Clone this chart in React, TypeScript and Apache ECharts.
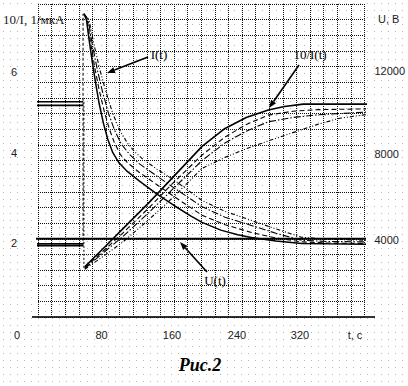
import React, { useEffect, useRef } from 'react';
import * as echarts from 'echarts';

// ---- data ----
const T_LABELS = [80, 160, 240, 320];
const LEFT_LABELS = [2, 4, 6];
const RIGHT_LABELS = [4000, 8000, 12000];

// levels before the start (t < 53)
const PRE_I_A = [[-5, 1.87], [53, 1.87]];
const PRE_I_B = [[-5, 1.82], [53, 1.82]];
const PRE_R_A = [[-5, 5.5], [53, 5.5]];
const PRE_R_B = [[-5, 5.41], [53, 5.41]];
// jumps at the start
const JUMP_I = [[53, 1.82], [53, 7.75]];
const JUMP_R = [[54, 5.5], [54, 1.24]];

// I(t), left axis (t, value) – four runs
const I1 = [[54, 7.75], [57, 7.6], [60, 7.1], [64, 6.5], [68, 5.95], [72, 5.45], [77, 4.95], [82, 4.55], [88, 4.2], [95, 3.95], [105, 3.72], [119, 3.48], [140, 3.14], [160, 2.85], [180, 2.58], [193, 2.42], [215, 2.22], [235, 2.1], [251, 2.03], [280, 1.94], [310, 1.88], [340, 1.87], [392, 1.86]];
const I2 = [[54, 7.75], [58, 7.6], [62, 7.0], [67, 6.35], [72, 5.8], [78, 5.25], [84, 4.8], [90, 4.45], [97, 4.15], [105, 3.95], [119, 3.7], [140, 3.38], [160, 3.08], [193, 2.6], [220, 2.36], [251, 2.16], [280, 2.02], [310, 1.92], [340, 1.89], [388, 1.88]];
const I3 = [[54, 7.75], [59, 7.6], [64, 6.95], [70, 6.3], [76, 5.75], [83, 5.2], [90, 4.78], [98, 4.42], [108, 4.15], [119, 3.92], [140, 3.6], [160, 3.3], [193, 2.82], [220, 2.55], [251, 2.34], [280, 2.14], [310, 1.96], [340, 1.93], [388, 1.92]];
const I4 = [[54, 7.75], [60, 7.6], [66, 6.95], [73, 6.3], [80, 5.75], [88, 5.2], [96, 4.78], [105, 4.45], [114, 4.22], [124, 4.02], [140, 3.78], [160, 3.5], [193, 2.98], [220, 2.7], [251, 2.47], [280, 2.25], [310, 2.04], [340, 1.99], [388, 1.96]];

// 10/I(t), left axis – four runs
const R1 = [[55, 1.28], [80, 1.82], [100, 2.26], [130, 2.91], [160, 3.6], [193, 4.36], [220, 4.82], [245, 5.1], [271, 5.29], [290, 5.38], [312, 5.44], [392, 5.44]];
const R2 = [[55, 1.26], [80, 1.75], [100, 2.15], [130, 2.78], [160, 3.45], [193, 4.14], [220, 4.6], [245, 4.92], [271, 5.16], [300, 5.26], [330, 5.3], [388, 5.32]];
const R3 = [[55, 1.24], [80, 1.7], [100, 2.06], [130, 2.66], [160, 3.3], [193, 4.0], [220, 4.45], [245, 4.75], [271, 4.99], [300, 5.1], [330, 5.17], [388, 5.24]];
const R4 = [[55, 1.22], [80, 1.6], [100, 1.92], [130, 2.48], [160, 3.08], [193, 3.8], [220, 4.08], [245, 4.3], [271, 4.5], [305, 4.75], [330, 4.93], [355, 5.08], [388, 5.18]];

// U(t), right axis (V)
const U = [[-5, 4000], [392, 4000]];

const SANS = 'Liberation Sans, Arial, sans-serif';
const SERIF = 'Liberation Serif, Times New Roman, serif';

function line(data: number[][], type: any, width: number, yAxisIndex = 0) {
  return {
    type: 'line', data, yAxisIndex, symbol: 'none', showSymbol: false, clip: false, silent: true,
    lineStyle: { color: '#000', width, type },
  };
}

function arrow(x1: number, y1: number, x2: number, y2: number) {
  const dx = x2 - x1, dy = y2 - y1;
  const L = Math.hypot(dx, dy);
  const ux = dx / L, uy = dy / L;
  const bx = x2 - ux * 8, by = y2 - uy * 8;
  const px = -uy * 3, py = ux * 3;
  return [
    { type: 'line', shape: { x1, y1, x2: bx, y2: by }, style: { stroke: '#000', lineWidth: 1.6 } },
    { type: 'polygon', shape: { points: [[x2, y2], [bx + px, by + py], [bx - px, by - py]] }, style: { fill: '#000' } },
  ];
}

const labelStyle = { fontSize: 11, fontFamily: SANS, color: '#222' };
const gridLine = { show: true, lineStyle: { color: '#111', type: [1, 1], width: 1 } };

const DASH = [5, 3];
const DASH_DOT = [7, 2, 1.5, 2];
const DASH_DOT_DOT = [4, 2, 1, 2, 1, 2];

export default function App() {
  const ref = useRef<HTMLDivElement>(null);
  useEffect(() => {
    const chart = echarts.init(ref.current!, null, { renderer: 'svg' });
    const option: any = {
      animation: false,
      grid: { left: 38, right: 40, top: 4, bottom: 69 },
      xAxis: {
        type: 'value', min: 0, max: 384, interval: 16,
        axisLine: { show: false }, axisTick: { show: false },
        splitLine: gridLine,
        axisLabel: {
          margin: 12, ...labelStyle,
          formatter: (v: number) => (T_LABELS.includes(v) ? `{t${v}|${v}}` : ''),
          rich: {
            t80: { ...labelStyle, padding: [0, 9, 0, 0] },
            t160: { ...labelStyle, padding: [0, 4, 0, 0] },
            t240: { ...labelStyle, padding: [0, 10, 0, 0] },
            t320: { ...labelStyle, padding: [0, 20, 0, 0] },
          },
        },
      },
      yAxis: [
        {
          type: 'value', min: 0, max: 8, interval: 0.4,
          axisLine: { show: false }, axisTick: { show: false },
          splitLine: gridLine,
          axisLabel: {
            margin: 21, ...labelStyle,
            formatter: (v: number) => {
              const r = Math.round(v * 10) / 10;
              return LEFT_LABELS.includes(r) ? `{l${r}|${r}}` : '';
            },
            rich: {
              l2: { ...labelStyle, padding: [8, 0, 0, 0] },
              l4: { ...labelStyle, padding: [0, 0, 15, 0] },
              l6: { ...labelStyle, padding: [0, 0, 20, 0] },
            },
          },
        },
        {
          type: 'value', min: 0, max: 16000, interval: 4000, position: 'right',
          axisLine: { show: false }, axisTick: { show: false }, splitLine: { show: false },
          axisLabel: {
            margin: 10, ...labelStyle,
            formatter: (v: number) => (RIGHT_LABELS.includes(v) ? `{r${v}|${v}}` : ''),
            rich: {
              r4000: { ...labelStyle, padding: [2, 0, 0, 0] },
              r8000: { ...labelStyle, padding: [0, 0, 14, 0] },
              r12000: { ...labelStyle, padding: [0, 0, 22, 0] },
            },
          },
        },
      ],
      series: [
        line(U, 'solid', 2.2, 1),
        line(PRE_I_A, 'solid', 1.6),
        line(PRE_I_B, 'solid', 1.6),
        line(PRE_R_A, 'solid', 1.6),
        line(PRE_R_B, 'solid', 1.6),
        line(JUMP_I, [3, 2], 1),
        line(JUMP_R, [2, 2], 1),
        line(I4, DASH_DOT_DOT, 1.1),
        line(I3, DASH_DOT, 1.1),
        line(I2, DASH, 1.1),
        line(I1, 'solid', 1.5),
        line(R4, DASH_DOT_DOT, 1.1),
        line(R3, DASH_DOT, 1.1),
        line(R2, DASH, 1.1),
        line(R1, 'solid', 1.6),
      ],
      graphic: [
        { type: 'line', shape: { x1: 32, y1: 317, x2: 375, y2: 317 }, style: { stroke: '#333', lineWidth: 2 } },
        { type: 'rect', shape: { x: 0, y: 9, width: 68, height: 20 }, style: { fill: '#fff' } },
        { type: 'text', x: 3, y: 19, style: { text: '10/I, 1/мкА', fontSize: 13, fontFamily: SERIF, fill: '#222', align: 'left', verticalAlign: 'middle' } },
        { type: 'text', x: 378, y: 19, style: { text: 'U, B', fontSize: 11, fontFamily: SANS, fill: '#222', align: 'left', verticalAlign: 'middle' } },
        { type: 'text', x: 17, y: 335, style: { text: '0', fontSize: 11, fontFamily: SANS, fill: '#222', align: 'center', verticalAlign: 'middle' } },
        { type: 'text', x: 355, y: 335, style: { text: 't, c', fontSize: 11, fontFamily: SANS, fill: '#222', align: 'center', verticalAlign: 'middle' } },
        { type: 'text', x: 159, y: 54, style: { text: 'I(t)', fontSize: 13, fontFamily: SERIF, fill: '#000', align: 'center', verticalAlign: 'middle' } },
        { type: 'text', x: 310, y: 54, style: { text: '10/I(t)', fontSize: 13, fontFamily: SERIF, fill: '#000', align: 'center', verticalAlign: 'middle' } },
        { type: 'text', x: 215, y: 280, style: { text: 'U(t)', fontSize: 13, fontFamily: SERIF, fill: '#000', align: 'center', verticalAlign: 'middle' } },
        ...arrow(148, 57, 107, 73),
        ...arrow(299, 65, 269, 108),
        ...arrow(207, 272, 180, 242),
        { type: 'text', x: 200, y: 365, style: { text: 'Рис.2', fontSize: 18, fontWeight: 'bold', fontStyle: 'italic', fontFamily: SERIF, fill: '#000', align: 'center', verticalAlign: 'middle' } },
      ],
    };
    chart.setOption(option);
    return () => chart.dispose();
  }, []);
  return (
    <div
      ref={ref}
      style={{
        position: 'absolute', left: 0, top: 0, width: 408, height: 386,
        backgroundColor: '#fff',
        backgroundImage: 'radial-gradient(circle, #b8b8b8 0.7px, rgba(255,255,255,0) 1px)',
        backgroundSize: '7px 7px',
      }}
    />
  );
}
